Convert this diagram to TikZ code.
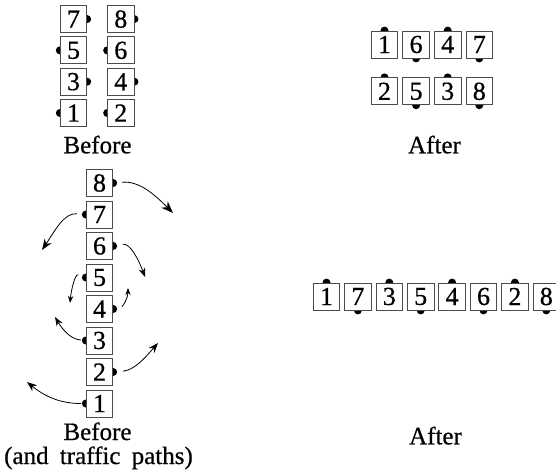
\documentclass[tikz,border=0pt]{standalone}
\usepackage{fontspec}
\setmainfont{Liberation Serif}[FakeBold=0.6]
\usetikzlibrary{positioning, arrows.meta, backgrounds}

\begin{document}
\begin{tikzpicture}[
    x=1pt, y=1pt,
    unitbox/.style={
        draw=black!70,
        line width=0.8pt,
        fill=white,
        minimum width=26.5pt,
        minimum height=27pt,
        inner sep=0pt,
        font=\fontsize{26}{26}\selectfont
    },
    caption/.style={
        anchor=base,
        inner sep=0pt,
        font=\fontsize{25}{25}\selectfont
    },
    flow/.style={
        -{Stealth[length=#1]},
        line width=0.8pt,
        black
    }
]
    \useasboundingbox (0,0) rectangle (556,469);

    % Before (top left)
    \node[unitbox] (pre1) at (73.5,356) {1};
    \node[unitbox, right=20pt of pre1] (pre2) {2};
    \node[unitbox, above=3.5pt of pre1] (pre3) {3};
    \node[unitbox, above=3.5pt of pre2] (pre4) {4};
    \node[unitbox, above=3.5pt of pre3] (pre5) {5};
    \node[unitbox, above=3.5pt of pre4] (pre6) {6};
    \node[unitbox, above=3.5pt of pre5] (pre7) {7};
    \node[unitbox, above=3.5pt of pre6] (pre8) {8};
    \node[caption] (preLabel) at (97.5,315.7) {Before};

    % After (top right)
    \node[unitbox] (post1) at (384.5,424.5) {1};
    \node[unitbox, right=4.3pt of post1] (post6) {6};
    \node[unitbox, right=4.3pt of post6] (post4) {4};
    \node[unitbox, right=4.3pt of post4] (post7) {7};
    \node[unitbox, below=19pt of post1] (post2) {2};
    \node[unitbox, right=4.3pt of post2] (post5) {5};
    \node[unitbox, right=4.3pt of post5] (post3) {3};
    \node[unitbox, right=4.3pt of post3] (post8) {8};
    \node[caption] (postLabel) at (434.5,315.7) {After};

    % Before with traffic paths (bottom left)
    \node[unitbox] (lane1) at (99.5,65.5) {1};
    \node[unitbox, above=3.7pt of lane1] (lane2) {2};
    \node[unitbox, above=3.7pt of lane2] (lane3) {3};
    \node[unitbox, above=3.7pt of lane3] (lane4) {4};
    \node[unitbox, above=3.7pt of lane4] (lane5) {5};
    \node[unitbox, above=3.7pt of lane5] (lane6) {6};
    \node[unitbox, above=3.7pt of lane6] (lane7) {7};
    \node[unitbox, above=3.7pt of lane7] (lane8) {8};
    \node[caption] (laneLabel) at (97.5,29) {Before};
    \node[caption] (laneNote) at (98.5,5) {(and\hspace{0.45em}traffic\hspace{0.45em}paths)};

    % After (bottom right)
    \node[unitbox] (row1) at (326.5,172.5) {1};
    \node[unitbox, right=4.1pt of row1] (row7) {7};
    \node[unitbox, right=4.1pt of row7] (row3) {3};
    \node[unitbox, right=4.1pt of row3] (row5) {5};
    \node[unitbox, right=4.1pt of row5] (row4) {4};
    \node[unitbox, right=4.1pt of row4] (row6) {6};
    \node[unitbox, right=4.1pt of row6] (row2) {2};
    \node[unitbox, right=4.1pt of row2] (row8) {8};
    \node[caption] (rowLabel) at (435.5,24.7) {After};

    % Dots on the box edges
    \begin{scope}[on background layer]
        \fill[black] (pre7.east) circle (4pt);
        \fill[black] (pre8.east) circle (4pt);
        \fill[black] (pre5.west) circle (4pt);
        \fill[black] (pre6.west) circle (4pt);
        \fill[black] (pre3.east) circle (4pt);
        \fill[black] (pre4.east) circle (4pt);
        \fill[black] (pre1.west) circle (4pt);
        \fill[black] (pre2.west) circle (4pt);

        \fill[black] (post1.north) circle (4pt);
        \fill[black] (post6.south) circle (4pt);
        \fill[black] (post4.north) circle (4pt);
        \fill[black] (post7.south) circle (4pt);
        \fill[black] (post2.north) circle (4pt);
        \fill[black] (post5.south) circle (4pt);
        \fill[black] (post3.north) circle (4pt);
        \fill[black] (post8.south) circle (4pt);

        \fill[black] (lane8.east) circle (4pt);
        \fill[black] (lane7.west) circle (4pt);
        \fill[black] (lane6.east) circle (4pt);
        \fill[black] (lane5.west) circle (4pt);
        \fill[black] (lane4.east) circle (4pt);
        \fill[black] (lane3.west) circle (4pt);
        \fill[black] (lane2.east) circle (4pt);
        \fill[black] (lane1.west) circle (4pt);

        \fill[black] (row1.north) circle (4pt);
        \fill[black] (row7.south) circle (4pt);
        \fill[black] (row3.north) circle (4pt);
        \fill[black] (row5.south) circle (4pt);
        \fill[black] (row4.north) circle (4pt);
        \fill[black] (row6.south) circle (4pt);
        \fill[black] (row2.north) circle (4pt);
        \fill[black] (row8.south) circle (4pt);
    \end{scope}

    % Traffic paths
    \coordinate (tip8) at (173,256);
    \coordinate (tip7) at (42,219);
    \coordinate (tip6) at (145,192);
    \coordinate (tip5) at (70,166);
    \coordinate (tip4) at (128,181);
    \coordinate (tip3) at (55,152);
    \coordinate (tip2) at (158,126);
    \coordinate (tip1) at (27,87);

    \draw[flow=12pt, shorten <=9pt] (lane8.east) to[out=5, in=135] (tip8);
    \draw[flow=11pt, shorten <=9pt] (lane7.west) to[out=175, in=56] (tip7);
    \draw[flow=9pt, shorten <=10pt] (lane6.east) to[out=10, in=110] (tip6);
    \draw[flow=7pt, shorten <=8pt] (lane5.west) to[out=160, in=85] (tip5);
    \draw[flow=7pt, shorten <=9pt] (lane4.east) to[out=15, in=-90] (tip4);
    \draw[flow=9pt, shorten <=5pt] (lane3.west) to[out=175, in=-59] (tip3);
    \draw[flow=10pt, shorten <=10pt] (lane2.east) to[out=5, in=-131] (tip2);
    \draw[flow=10pt, shorten <=5pt] (lane1.west) to[out=180, in=-39] (tip1);

\end{tikzpicture}
\end{document}
